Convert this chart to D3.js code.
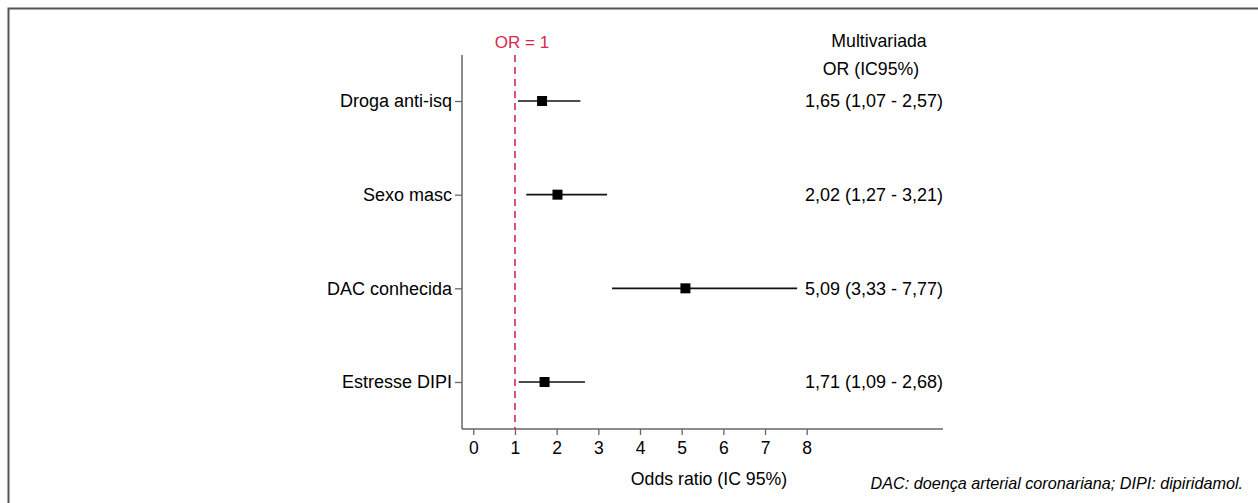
<!DOCTYPE html>
<html>
<head>
<meta charset="utf-8">
<script src="https://cdn.jsdelivr.net/npm/d3@7"></script>
<style>
  body { margin: 0; background: #fff; }
  text { font-family: "Liberation Sans", Arial, sans-serif; fill: #000; }
</style>
</head>
<body>
<svg id="chart" width="1258" height="503"></svg>
<script>
// data
var categories = ["Droga anti-isq", "Sexo masc", "DAC conhecida", "Estresse DIPI"];
var oddsRatio = [1.65, 2.02, 5.09, 1.71];
var ciLow = [1.07, 1.27, 3.33, 1.09];
var ciHigh = [2.57, 3.21, 7.77, 2.68];
var xTicks = [0, 1, 2, 3, 4, 5, 6, 7, 8];

var fmt = function(v) { return d3.format(".2f")(v).replace(".", ","); };

var svg = d3.select("#chart");

// frame of the figure (only top and left edges show)
svg.append("rect")
  .attr("x", 8.5).attr("y", 8.5)
  .attr("width", 1400).attr("height", 700)
  .attr("fill", "none")
  .attr("stroke", "#555")
  .attr("stroke-width", 2);

var x = d3.scaleLinear().domain([0, 8]).range([473.3, 806.7]);
var y = d3.scalePoint().domain(categories).range([101, 382]);

var axisLeft = 462, axisBottom = 429, axisTop = 55, axisRight = 943;

// y axis
svg.append("line")
  .attr("x1", axisLeft).attr("x2", axisLeft)
  .attr("y1", axisTop).attr("y2", axisBottom)
  .attr("stroke", "#666").attr("stroke-width", 1.5);

var yAxis = svg.append("g")
  .attr("transform", "translate(" + axisLeft + ",0)")
  .call(d3.axisLeft(y).tickSize(7).tickPadding(3));
yAxis.select(".domain").remove();
yAxis.selectAll(".tick line").attr("stroke", "#666").attr("stroke-width", 1.3);
yAxis.selectAll(".tick text")
  .attr("font-size", 18)
  .attr("font-family", "Liberation Sans, Arial, sans-serif")
  .attr("fill", "#000");

// x axis
svg.append("line")
  .attr("x1", axisLeft).attr("x2", axisRight)
  .attr("y1", axisBottom).attr("y2", axisBottom)
  .attr("stroke", "#666").attr("stroke-width", 1.5);

var xAxis = svg.append("g")
  .attr("transform", "translate(0," + axisBottom + ")")
  .call(d3.axisBottom(x).tickValues(xTicks).tickSize(6).tickPadding(7).tickFormat(d3.format("d")));
xAxis.select(".domain").remove();
xAxis.selectAll(".tick line").attr("stroke", "#666").attr("stroke-width", 1.3);
xAxis.selectAll(".tick text")
  .attr("font-size", 17.5)
  .attr("font-family", "Liberation Sans, Arial, sans-serif")
  .attr("fill", "#000");

svg.append("text")
  .attr("x", 709).attr("y", 485)
  .attr("text-anchor", "middle")
  .attr("font-size", 17.7)
  .text("Odds ratio (IC 95%)");

// reference line at OR = 1
svg.append("line")
  .attr("x1", x(1)).attr("x2", x(1))
  .attr("y1", axisTop).attr("y2", axisBottom)
  .attr("stroke", "#d42a4f")
  .attr("stroke-width", 1.6)
  .attr("stroke-dasharray", "7 5");

svg.append("text")
  .attr("x", x(1) + 7).attr("y", 48)
  .attr("text-anchor", "middle")
  .attr("font-size", 17)
  .style("fill", "#d42a4f")
  .text("OR = 1");

// confidence intervals and point estimates
var rows = categories.map(function(c, i) {
  return { cat: c, or: oddsRatio[i], lo: ciLow[i], hi: ciHigh[i] };
});

var row = svg.append("g").selectAll("g")
  .data(rows)
  .join("g");

row.append("line")
  .attr("x1", function(d) { return x(d.lo); })
  .attr("x2", function(d) { return x(d.hi); })
  .attr("y1", function(d) { return y(d.cat); })
  .attr("y2", function(d) { return y(d.cat); })
  .attr("stroke", "#111")
  .attr("stroke-width", 1.6);

row.append("rect")
  .attr("x", function(d) { return x(d.or) - 5; })
  .attr("y", function(d) { return y(d.cat) - 5; })
  .attr("width", 10).attr("height", 10)
  .attr("fill", "#000");

row.append("text")
  .attr("x", 874)
  .attr("y", function(d) { return y(d.cat); })
  .attr("dy", "0.35em")
  .attr("text-anchor", "middle")
  .attr("font-size", 18)
  .text(function(d) { return fmt(d.or) + " (" + fmt(d.lo) + " - " + fmt(d.hi) + ")"; });

// column header
svg.append("text")
  .attr("x", 879).attr("y", 47)
  .attr("text-anchor", "middle")
  .attr("font-size", 17.7)
  .text("Multivariada");
svg.append("text")
  .attr("x", 871).attr("y", 75)
  .attr("text-anchor", "middle")
  .attr("font-size", 17.7)
  .text("OR (IC95%)");

// footnote
svg.append("text")
  .attr("x", 1243).attr("y", 489)
  .attr("text-anchor", "end")
  .attr("font-size", 16.2)
  .attr("font-style", "italic")
  .style("font-family", "'Liberation Sans Narrow', 'Arial Narrow', 'Liberation Sans', sans-serif")
  .text("DAC: doença arterial coronariana; DIPI: dipiridamol.");
</script>
</body>
</html>
